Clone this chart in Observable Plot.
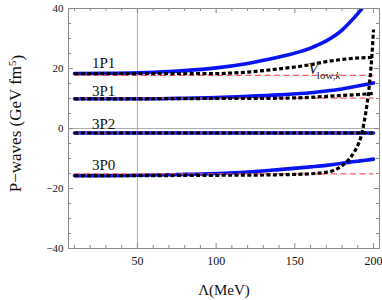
<!DOCTYPE html>
<html><head><meta charset="utf-8">
<script src="https://cdn.jsdelivr.net/npm/d3@7"></script>
<script src="https://cdn.jsdelivr.net/npm/@observablehq/plot@0.6"></script>
<style>body{margin:0;background:#fff}</style>
</head><body><div id="chart"></div>
<script>
// ---- data ----
const lamBlue = [10, 30, 50, 70, 80, 100, 120, 140, 160, 170, 180, 185, 190, 195, 200];
const blue1P1 = [18.3, 18.4, 18.6, 19.0, 19.3, 20.2, 21.7, 23.8, 26.8, 29.2, 32.8, 35.4, 38.3, 41.6, 45.5];
const blue3P1 = [9.9, 9.9, 9.9, 10.0, 10.1, 10.3, 10.7, 11.2, 11.9, 12.5, 13.2, 13.7, 14.2, 14.7, 15.2];
const blue3P2 = [-1.5, -1.5, -1.5, -1.5, -1.5, -1.5, -1.5, -1.5, -1.5, -1.5, -1.5, -1.5, -1.5, -1.5, -1.5];
const blue3P0 = [-15.7, -15.7, -15.6, -15.4, -15.3, -15.0, -14.5, -13.7, -12.8, -12.3, -11.6, -11.2, -10.9, -10.6, -10.2];

const lamBlack = [10, 50, 100, 110, 120, 130, 140, 150, 160, 170, 180, 190, 200];
const black1P1 = [18.3, 18.3, 18.3, 18.5, 18.8, 19.3, 19.9, 20.5, 21.3, 22.3, 23.0, 23.5, 23.7];
const black3P1 = [9.9, 9.9, 10.0, 10.0, 10.0, 10.0, 10.1, 10.2, 10.4, 10.7, 11.0, 11.3, 11.7];
const black3P2 = [-1.5, -1.5, -1.5, -1.5, -1.5, -1.5, -1.5, -1.5, -1.5, -1.5, -1.5, -1.5, -1.5];
const lam3P0 = [10, 50, 100, 130, 150, 160, 165, 170, 175, 180, 185, 188, 190, 192, 194, 196, 197, 198, 199, 200];
const black3P0 = [-15.7, -15.7, -15.6, -15.5, -15.3, -15.1, -14.9, -14.6, -13.9, -12.4, -9.9, -7.6, -5.6, -2.8, 2.0, 8.6, 12.8, 18.0, 24.5, 33.0];

const lamRed = [10, 200];
const redLevels = [17.7, 10.1, -1.5, -15.1];

const waveNames = ["1P1", "3P1", "3P2", "3P0"];
const waveLabelX = [28.5, 28.5, 28.5, 28.5];
const waveLabelY = [20.2, 10.8, -0.3, -13.9];

const vlowText = ["V", "low,k"];
const vlowX = [158.6, 164.0];
const vlowY = [18.3, 16.5];

const xMajor = [50, 100, 150, 200];
const xMinor = [10, 20, 30, 40, 60, 70, 80, 90, 110, 120, 130, 140, 160, 170, 180, 190];
const yMajor = [-40, -20, 0, 20, 40];
const yMinor = [-35, -30, -25, -15, -10, -5, 5, 10, 15, 25, 30, 35];

const xTitle = "Λ(MeV)";
const yTitle = "P−waves (GeV fm5)";

// ---- layout ----
const W = 382, H = 300, mL = 68, mR = 3, mT = 8, mB = 52;
const fw = W - mL - mR, fh = H - mT - mB;
const pts = (lam, vals) => lam.map((x, i) => ({x, y: vals[i]}));
const grey = "#8a8a8a";
const serif = "Liberation Serif, Times New Roman, serif";

const blueSets = [blue1P1, blue3P1, blue3P2, blue3P0].map(v => pts(lamBlue, v));
const blackSets = [pts(lamBlack, black1P1), pts(lamBlack, black3P1), pts(lamBlack, black3P2), pts(lam3P0, black3P0)];
const redSets = redLevels.map(v => pts(lamRed, lamRed.map(() => v)));
const labels = waveNames.map((t, i) => ({t, x: waveLabelX[i], y: waveLabelY[i]}));

const marks = [
  Plot.ruleX([50], {stroke: "#999", strokeWidth: 0.8}),
  Plot.ruleY([0], {stroke: "#999", strokeWidth: 0.8}),
  ...blueSets.map(d => Plot.line(d, {x: "x", y: "y", stroke: "#0a14f0", strokeWidth: 3.6, curve: "monotone-x", clip: true})),
  ...redSets.map(d => Plot.line(d, {x: "x", y: "y", stroke: "#ff5a5a", strokeWidth: 1.2, strokeDasharray: "6,3.5", strokeLinecap: "butt"})),
  ...blackSets.map(d => Plot.line(d, {x: "x", y: "y", stroke: "#000", strokeWidth: 3.2, strokeDasharray: "4,2.4", strokeLinecap: "butt", curve: "monotone-x", clip: true})),
  Plot.text(labels, {x: "x", y: "y", text: "t", lineAnchor: "bottom", fontSize: 15, fill: "#111"}),
  Plot.text([vlowText[0]], {x: vlowX[0], y: vlowY[0], text: d => d, textAnchor: "start", lineAnchor: "bottom", fontSize: 16, fontStyle: "italic", fill: "#222"}),
  Plot.text([vlowText[1]], {x: vlowX[1], y: vlowY[1], text: d => d, textAnchor: "start", lineAnchor: "bottom", fontSize: 11, fill: "#222"}),
  // ticks inside the frame
  Plot.tickX(xMinor, {x: d => d, insetTop: fh - 3, stroke: grey}),
  Plot.tickX(xMinor, {x: d => d, insetBottom: fh - 3, stroke: grey}),
  Plot.tickX(xMajor, {x: d => d, insetTop: fh - 5, stroke: grey}),
  Plot.tickX(xMajor, {x: d => d, insetBottom: fh - 5, stroke: grey}),
  Plot.tickY(yMinor, {y: d => d, insetRight: fw - 3, stroke: grey}),
  Plot.tickY(yMinor, {y: d => d, insetLeft: fw - 3, stroke: grey}),
  Plot.tickY(yMajor, {y: d => d, insetRight: fw - 5, stroke: grey}),
  Plot.tickY(yMajor, {y: d => d, insetLeft: fw - 5, stroke: grey}),
  Plot.frame({stroke: grey, strokeWidth: 1}),
  Plot.axisX({ticks: xMajor, tickSize: 0, tickPadding: 8, fontSize: 12, label: null}),
  Plot.axisY({ticks: yMajor, tickSize: 0, tickPadding: 5, fontSize: 11, label: null}),
  Plot.text([xTitle], {frameAnchor: "bottom", text: d => d, lineAnchor: "bottom", dy: 46, fontSize: 15}),
  Plot.text([yTitle], {frameAnchor: "left", text: d => d, rotate: -90, textAnchor: "middle", lineAnchor: "bottom", dx: -48, dy: -5, fontSize: 17})
];

const chart = Plot.plot({
  width: W, height: H,
  marginLeft: mL, marginRight: mR, marginTop: mT, marginBottom: mB,
  x: {domain: [6.2, 203.8]},
  y: {domain: [-40, 40]},
  style: {fontFamily: serif, background: "#fff", color: "#111"},
  marks
});

// superscript / subscript styling of the titles
const ns = "http://www.w3.org/2000/svg";
chart.querySelectorAll("text").forEach(el => {
  if (el.textContent === yTitle) {
    el.textContent = "";
    const a = document.createElementNS(ns, "tspan"); a.textContent = "P−waves (GeV fm";
    const b = document.createElementNS(ns, "tspan"); b.textContent = "5"; b.setAttribute("dy", "-0.45em"); b.setAttribute("font-size", "11");
    const c = document.createElementNS(ns, "tspan"); c.textContent = ")"; c.setAttribute("dy", "0.45em");
    el.append(a, b, c);
  } else if (el.textContent === vlowText[1]) {
    el.textContent = "";
    const a = document.createElementNS(ns, "tspan"); a.textContent = "low,";
    const b = document.createElementNS(ns, "tspan"); b.textContent = "k"; b.setAttribute("font-style", "italic");
    el.append(a, b);
  }
});
document.getElementById("chart").append(chart);
</script>
</body></html>
